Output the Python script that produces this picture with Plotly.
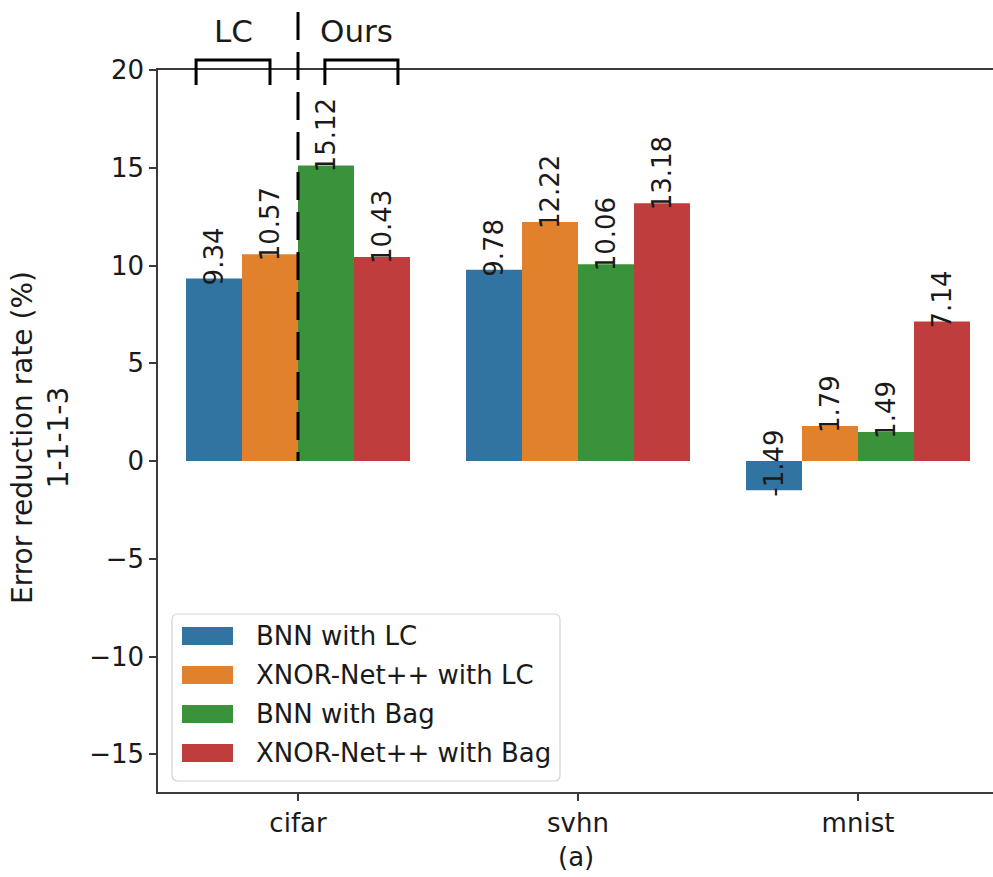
import plotly.graph_objects as go

# Data
datasets = ["cifar", "svhn", "mnist"]
series_names = ["BNN with LC", "XNOR-Net++ with LC", "BNN with Bag", "XNOR-Net++ with Bag"]
bnn_lc = [9.34, 9.78, -1.49]
xnor_lc = [10.57, 12.22, 1.79]
bnn_bag = [15.12, 10.06, 1.49]
xnor_bag = [10.43, 13.18, 7.14]
series_values = [bnn_lc, xnor_lc, bnn_bag, xnor_bag]
colors = ["#3274a1", "#e1812c", "#3a923a", "#c03d3e"]
y_ticks = [-15, -10, -5, 0, 5, 10, 15, 20]

FONT = "DejaVu Sans"
TXT = "#1a1a1a"
AXC = "#3a3a3a"

W, H = 993, 877
L, R, T, B = 158, 0, 70, 85
plot_w = W - L - R
plot_h = H - T - B

y_min, y_max = -16.93, 20.0
x_min, x_max = -0.5, -0.5 + plot_w / 280.0

bar_w = 0.2


def px_x(p):
    return (p - L) / plot_w


def px_y(p):
    return (H - B - p) / plot_h


def data_to_paper_y(v):
    return (v - y_min) / (y_max - y_min)


fig = go.Figure()
annotations = []
for k, (name, vals, col) in enumerate(zip(series_names, series_values, colors)):
    off = -0.4 + bar_w * k
    fig.add_trace(go.Bar(
        x=list(range(len(datasets))), y=vals, name=name,
        width=bar_w, offset=off,
        marker=dict(color=col, line=dict(width=0)),
        showlegend=False,
    ))
    for i, v in enumerate(vals):
        annotations.append(dict(
            x=i + off + bar_w / 2, y=v, xref="x", yref="y",
            text=f"{v:.2f}", textangle=-90, showarrow=False,
            xanchor="center", yanchor="bottom", yshift=-9,
            font=dict(family=FONT, size=26, color=TXT),
        ))

shapes = []
# dashed divider at the cifar group centre
shapes.append(dict(
    type="line", xref="x", yref="paper",
    x0=0, x1=0, y0=px_y(12), y1=data_to_paper_y(0),
    line=dict(color="black", width=3, dash="28px,12px"),
))
# brackets over the two method groups
for xa, xb in [(-0.364, -0.1), (0.096, 0.357)]:
    ytop, ybot = px_y(60), px_y(85)
    shapes.append(dict(
        type="path", xref="x", yref="paper",
        path=f"M {xa},{ybot} L {xa},{ytop} L {xb},{ytop} L {xb},{ybot}",
        line=dict(color="black", width=3),
    ))
for label, cx in [("LC", -0.232), ("Ours", 0.208)]:
    annotations.append(dict(
        x=cx, y=px_y(31), xref="x", yref="paper", text=label,
        showarrow=False, xanchor="center", yanchor="middle",
        font=dict(family=FONT, size=31, color=TXT),
    ))

# legend box
lx0, lx1, ly0, ly1 = px_x(172), px_x(560), px_y(781), px_y(614)
rx, ry = 6 / plot_w, 6 / plot_h
shapes.append(dict(
    type="path", xref="paper", yref="paper",
    path=(f"M {lx0+rx},{ly0} L {lx1-rx},{ly0} Q {lx1},{ly0} {lx1},{ly0+ry} "
          f"L {lx1},{ly1-ry} Q {lx1},{ly1} {lx1-rx},{ly1} "
          f"L {lx0+rx},{ly1} Q {lx0},{ly1} {lx0},{ly1-ry} "
          f"L {lx0},{ly0+ry} Q {lx0},{ly0} {lx0+rx},{ly0} Z"),
    fillcolor="rgba(255,255,255,0.85)", line=dict(color="#d3d3d3", width=1.2),
    layer="above",
))
for k, (name, col) in enumerate(zip(series_names, colors)):
    cy = 636 + 39 * k
    shapes.append(dict(
        type="rect", xref="paper", yref="paper",
        x0=px_x(182), x1=px_x(233), y0=px_y(cy + 9), y1=px_y(cy - 9),
        fillcolor=col, line=dict(width=0), layer="above",
    ))
    annotations.append(dict(
        x=px_x(254), y=px_y(cy), xref="paper", yref="paper", text=name,
        showarrow=False, xanchor="left", yanchor="middle",
        font=dict(family=FONT, size=26, color=TXT),
    ))

# axis titles
annotations.append(dict(
    x=px_x(41), y=px_y(437), xref="paper", yref="paper",
    text="Error reduction rate (%)<br>1-1-1-3", textangle=-90,
    showarrow=False, xanchor="center", yanchor="middle",
    font=dict(family=FONT, size=28, color=TXT),
))
annotations.append(dict(
    x=0.5, y=px_y(857), xref="paper", yref="paper", text="(a)",
    showarrow=False, xanchor="center", yanchor="middle",
    font=dict(family=FONT, size=26, color=TXT),
))

fig.update_layout(
    width=W, height=H,
    margin=dict(l=L, r=R, t=T, b=B),
    paper_bgcolor="white", plot_bgcolor="white",
    barmode="overlay",
    shapes=shapes, annotations=annotations,
    font=dict(family=FONT, size=26, color=TXT),
)
fig.update_xaxes(
    range=[x_min, x_max], tickvals=list(range(len(datasets))), ticktext=datasets,
    showline=True, linecolor=AXC, linewidth=1.6, mirror=True,
    ticks="outside", ticklen=7, tickwidth=1.5, tickcolor=AXC,
    showgrid=False, zeroline=False,
    tickfont=dict(family=FONT, size=26, color=TXT),
)
fig.update_yaxes(
    range=[y_min, y_max], tickvals=y_ticks,
    ticktext=[str(v).replace("-", "\u2212") for v in y_ticks],
    showline=True, linecolor=AXC, linewidth=1.6,
    ticks="outside", ticklen=7, tickwidth=1.5, tickcolor=AXC,
    showgrid=False, zeroline=False,
    tickfont=dict(family=FONT, size=26, color=TXT),
)

fig.write_html("out.html")
